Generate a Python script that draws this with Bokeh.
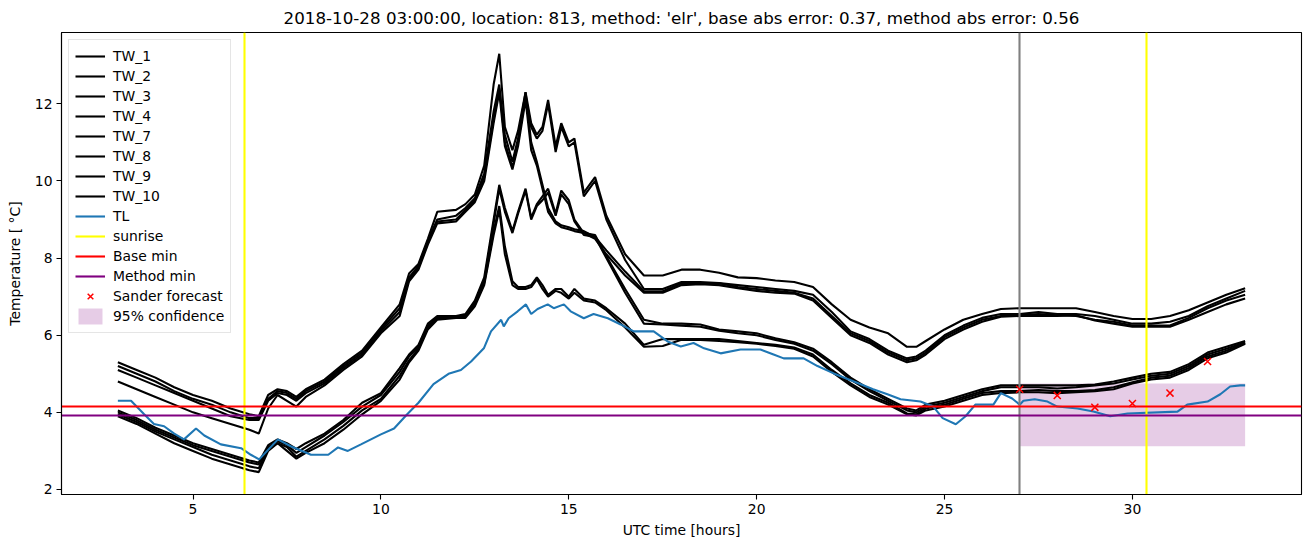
import math
from bokeh.plotting import figure
from bokeh.models import Range1d, Legend, LegendItem, FixedTicker
from bokeh.embed import file_html
from bokeh.resources import INLINE

# ---------------- data ----------------
T = [3, 3.5, 4, 4.5, 5, 5.5, 6, 6.5,
     6.75, 7, 7.25, 7.5, 7.75, 8,
     8.5, 9, 9.5, 10, 10.5, 10.75,
     11, 11.25, 11.5, 12, 12.25, 12.5, 12.75,
     13, 13.15, 13.3, 13.5, 13.65, 13.85,
     14, 14.15, 14.3, 14.45, 14.65, 14.8,
     15, 15.15, 15.4, 15.7, 16, 16.5,
     17, 17.5, 18, 18.5, 19, 19.5,
     20, 20.5, 21, 21.5, 22, 22.5,
     23, 23.5, 24, 24.25, 24.5, 25,
     25.5, 26, 26.5, 27, 27.5, 28,
     28.5, 29, 29.5, 30, 30.5, 31,
     31.5, 32, 32.5, 33]

TW_1 = [5.3, 5.1, 4.9, 4.65, 4.45, 4.3, 4.1, 3.95,
        3.9, 4.45, 4.6, 4.55, 4.4, 4.6,
        4.85, 5.25, 5.6, 6.2, 6.8, 7.6,
        7.85, 8.5, 9.2, 9.25, 9.4, 9.65, 10.4,
        12.5, 13.3, 11.4, 10.8, 11.3, 12.3,
        11.5, 11.2, 11.4, 12.1, 10.9, 11.5,
        11.0, 11.1, 9.7, 10.1, 9.1, 8.1,
        7.55, 7.55, 7.7, 7.7, 7.62, 7.5,
        7.48, 7.42, 7.38, 7.25, 6.8, 6.4,
        6.2, 6.05, 5.7, 5.7, 5.85, 6.15,
        6.4, 6.55, 6.68, 6.7, 6.7, 6.7,
        6.7, 6.6, 6.5, 6.42, 6.42, 6.5,
        6.65, 6.85, 7.05, 7.22]
TW_2 = [5.2, 5.0, 4.8, 4.55, 4.35, 4.2, 4.0, 3.85,
        3.85, 4.35, 4.55, 4.5, 4.35, 4.55,
        4.8, 5.2, 5.55, 6.15, 6.7, 7.5,
        7.8, 8.45, 9.0, 9.1, 9.3, 9.55, 10.2,
        11.8, 12.5, 11.0, 10.35, 11.0, 12.2,
        11.4, 11.1, 11.3, 12.0, 10.75, 11.4,
        10.9, 11.0, 9.6, 10.0, 9.0, 7.95,
        7.2, 7.2, 7.38, 7.38, 7.35, 7.3,
        7.25, 7.2, 7.15, 7.05, 6.6, 6.1,
        5.9, 5.6, 5.4, 5.45, 5.6, 6.0,
        6.25, 6.45, 6.55, 6.55, 6.6, 6.55,
        6.55, 6.5, 6.4, 6.3, 6.3, 6.35,
        6.5, 6.75, 6.95, 7.15]
TW_3 = [5.1, 4.9, 4.7, 4.5, 4.3, 4.1, 3.9, 3.8,
        3.8, 4.3, 4.5, 4.45, 4.3, 4.5,
        4.75, 5.15, 5.5, 6.1, 6.6, 7.45,
        7.75, 8.4, 8.95, 9.0, 9.25, 9.5, 10.1,
        11.6, 12.4, 11.2, 10.5, 11.1, 12.3,
        11.0, 10.5, 9.9, 9.3, 8.95, 8.85,
        8.8, 8.75, 8.7, 8.55, 8.2, 7.65,
        7.14, 7.14, 7.35, 7.35, 7.35, 7.25,
        7.2, 7.15, 7.1, 6.95, 6.5, 6.05,
        5.85, 5.55, 5.35, 5.4, 5.55, 5.95,
        6.2, 6.4, 6.5, 6.52, 6.55, 6.52,
        6.5, 6.4, 6.35, 6.25, 6.25, 6.25,
        6.45, 6.7, 6.9, 7.05]
TW_4 = [4.8, 4.6, 4.4, 4.2, 4.0, 3.85, 3.7, 3.55,
        3.45, 4.1, 4.45, 4.3, 4.15, 4.4,
        4.7, 5.1, 5.45, 6.05, 6.5, 7.4,
        7.7, 8.35, 8.9, 8.95, 9.2, 9.45, 10.0,
        11.5, 12.3, 10.9, 10.3, 10.9, 12.1,
        10.8, 10.4, 9.8, 9.2, 8.9, 8.8,
        8.75, 8.7, 8.65, 8.5, 8.1, 7.55,
        7.1, 7.1, 7.3, 7.32, 7.3, 7.22,
        7.15, 7.1, 7.08, 6.9, 6.45, 6.0,
        5.8, 5.5, 5.3, 5.35, 5.5, 5.9,
        6.15, 6.35, 6.48, 6.5, 6.5, 6.5,
        6.52, 6.38, 6.3, 6.22, 6.22, 6.22,
        6.4, 6.6, 6.8, 6.95]
TW_7 = [4.05, 3.85, 3.6, 3.4, 3.2, 3.05, 2.9, 2.75,
        2.7, 3.15, 3.3, 3.2, 3.05, 3.2,
        3.45, 3.8, 4.25, 4.5, 5.15, 5.5,
        5.75, 6.3, 6.5, 6.5, 6.55, 6.9, 7.5,
        9.0, 9.9, 9.3, 8.7, 9.2, 9.8,
        9.05, 9.4, 9.6, 9.8, 9.15, 9.75,
        9.5, 9.0, 8.65, 8.6, 8.05, 7.2,
        6.4, 6.3, 6.3, 6.28, 6.15, 6.1,
        6.05, 5.92, 5.82, 5.65, 5.3, 4.9,
        4.6, 4.35, 4.1, 4.05, 4.2, 4.3,
        4.45, 4.6, 4.7, 4.7, 4.7, 4.7,
        4.7, 4.72, 4.8, 4.9, 5.0, 5.05,
        5.25, 5.55, 5.7, 5.85]
TW_8 = [4.0, 3.8, 3.55, 3.35, 3.15, 3.0, 2.85, 2.7,
        2.65, 3.1, 3.25, 3.15, 2.95, 3.1,
        3.4, 3.75, 4.15, 4.45, 5.05, 5.45,
        5.7, 6.25, 6.45, 6.5, 6.5, 6.85, 7.4,
        8.9, 9.8, 9.2, 8.65, 9.15, 9.75,
        9.0, 9.35, 9.5, 9.7, 9.1, 9.65,
        9.4, 8.95, 8.6, 8.55, 8.0, 7.1,
        6.3, 6.28, 6.25, 6.22, 6.12, 6.05,
        6.0, 5.88, 5.78, 5.6, 5.25, 4.85,
        4.55, 4.3, 4.05, 4.0, 4.15, 4.25,
        4.4, 4.55, 4.65, 4.65, 4.65, 4.62,
        4.65, 4.7, 4.75, 4.85, 4.95, 5.0,
        5.2, 5.5, 5.65, 5.82]
TW_9 = [3.95, 3.75, 3.5, 3.3, 3.1, 2.9, 2.75, 2.6,
        2.55, 3.05, 3.2, 3.1, 2.85, 3.0,
        3.3, 3.65, 4.05, 4.35, 4.95, 5.35,
        5.65, 6.2, 6.45, 6.45, 6.5, 6.8, 7.35,
        8.7, 9.35, 8.3, 7.4, 7.25, 7.25,
        7.3, 7.5, 7.3, 7.05, 7.2, 7.2,
        7.0, 7.2, 6.95, 6.9, 6.7, 6.3,
        5.75, 5.9, 5.9, 5.9, 5.9, 5.85,
        5.8, 5.75, 5.68, 5.5, 5.1, 4.75,
        4.45, 4.25, 3.97, 3.95, 4.1, 4.2,
        4.35, 4.5, 4.55, 4.55, 4.58, 4.55,
        4.55, 4.58, 4.65, 4.78, 4.9, 4.95,
        5.15, 5.45, 5.6, 5.8]
TW_10 = [3.9, 3.7, 3.45, 3.2, 3.0, 2.8, 2.65, 2.5,
         2.45, 3.0, 3.2, 3.0, 2.8, 2.95,
         3.2, 3.55, 3.95, 4.3, 4.85, 5.3,
         5.6, 6.15, 6.4, 6.45, 6.45, 6.75, 7.3,
         8.6, 9.25, 8.1, 7.3, 7.2, 7.2,
         7.25, 7.45, 7.2, 7.0, 7.15, 7.1,
         6.95, 7.1, 6.9, 6.85, 6.65, 6.2,
         5.7, 5.72, 5.88, 5.88, 5.85, 5.82,
         5.78, 5.72, 5.65, 5.45, 5.05, 4.7,
         4.4, 4.2, 3.95, 3.92, 4.05, 4.15,
         4.3, 4.45, 4.5, 4.52, 4.52, 4.5,
         4.52, 4.55, 4.6, 4.75, 4.85, 4.9,
         5.1, 5.4, 5.55, 5.78]

TL_T = [3.0, 3.35, 3.7, 3.96, 4.23, 4.5, 4.76, 5.08, 5.3, 5.74, 6.28, 6.54, 6.76,
        7.26, 7.6, 8.14, 8.6, 8.86, 9.12, 9.47, 10.0, 10.35, 10.7, 11.0, 11.4,
        11.8, 12.13, 12.4, 12.74, 12.93, 13.2, 13.27, 13.4, 13.64, 13.86, 14.0,
        14.17, 14.44, 14.6, 14.87, 15.05, 15.4, 15.66, 16.04, 16.38, 16.73, 17.26,
        17.63, 17.98, 18.32, 18.6, 19.04, 19.57, 20.1, 20.45, 20.72, 21.25, 21.62,
        22.05, 22.77, 23.1, 23.48, 23.83, 24.36, 24.7, 24.95, 25.3, 25.56, 25.82,
        26.3, 26.5, 26.8, 27.0, 27.1, 27.4, 27.74, 28.0, 28.54, 28.96, 29.41,
        29.87, 31.2, 31.46, 32.0, 32.34, 32.6, 32.87, 33.0]
TL_V = [4.3, 4.3, 3.95, 3.7, 3.64, 3.45, 3.3, 3.58, 3.4, 3.17, 3.07, 2.9, 2.78,
        3.3, 3.12, 2.9, 2.9, 3.09, 3.0, 3.17, 3.43, 3.58, 3.95, 4.25, 4.73,
        5.0, 5.1, 5.32, 5.66, 6.1, 6.4, 6.23, 6.44, 6.62, 6.8, 6.55,
        6.68, 6.8, 6.7, 6.8, 6.62, 6.44, 6.55, 6.44, 6.28, 6.1, 6.1,
        5.84, 5.71, 5.8, 5.66, 5.53, 5.63, 5.63, 5.5, 5.4, 5.4, 5.2,
        5.01, 4.73, 4.6, 4.47, 4.34, 4.28, 4.15, 3.85, 3.69, 3.9, 4.2,
        4.2, 4.5, 4.36, 4.2, 4.3, 4.34, 4.28, 4.15, 4.1, 4.02, 3.9,
        3.97, 4.02, 4.2, 4.28, 4.47, 4.67, 4.7, 4.7]

SUNRISE = [6.38, 30.37]
FORECAST_START = [27.0]
BASE_MIN = [4.14]
METHOD_MIN = [3.93]
SANDER_T = [27, 28, 29, 30, 31, 32]
SANDER_V = [4.6, 4.44, 4.13, 4.23, 4.5, 5.32]
CONF_T = [27, 33]
CONF_LO = [3.12, 3.12]
CONF_HI = [4.75, 4.75]

TW_NAMES = ["TW_1", "TW_2", "TW_3", "TW_4", "TW_7", "TW_8", "TW_9", "TW_10"]
TW_DATA = [TW_1, TW_2, TW_3, TW_4, TW_7, TW_8, TW_9, TW_10]

TITLE = "2018-10-28 03:00:00, location: 813, method: 'elr', base abs error: 0.37, method abs error: 0.56"

# ---------------- figure ----------------
FONT = "DejaVu Sans"
LW = 2.1
p = figure(width=1310, height=547, x_range=Range1d(1.5, 34.5), y_range=Range1d(1.87, 13.85),
           output_backend="svg", toolbar_location=None, title=TITLE,
           min_border_left=61, min_border_right=9, min_border_top=32, min_border_bottom=53)

p.title.align = "center"
p.title.text_font = FONT
p.title.text_font_size = "16.7px"
p.title.text_font_style = "normal"
p.title.text_color = "black"

p.xgrid.visible = False
p.ygrid.visible = False
p.outline_line_color = "black"
p.outline_line_alpha = 1.0
p.outline_line_width = 1.1

p.xaxis.ticker = FixedTicker(ticks=[5, 10, 15, 20, 25, 30])
p.yaxis.ticker = FixedTicker(ticks=[2, 4, 6, 8, 10, 12])
p.xaxis.axis_label = "UTC time [hours]"
p.yaxis.axis_label = "Temperature [ °C]"
for ax in (p.xaxis, p.yaxis):
    ax.axis_line_color = "black"
    ax.axis_line_width = 1.1
    ax.major_tick_line_color = "black"
    ax.major_tick_line_width = 1.1
    ax.minor_tick_line_color = None
    ax.major_tick_in = 0
    ax.major_tick_out = 5
    ax.major_label_text_font = FONT
    ax.major_label_text_font_size = "13.9px"
    ax.major_label_text_color = "black"
    ax.axis_label_text_font = FONT
    ax.axis_label_text_font_size = "13.9px"
    ax.axis_label_text_font_style = "normal"
    ax.axis_label_text_color = "black"
    ax.major_label_standoff = 4
p.xaxis.axis_label_standoff = 5
p.yaxis.axis_label_standoff = 9

items = []
band = p.varea(x=CONF_T, y1=CONF_LO, y2=CONF_HI, fill_color="purple", fill_alpha=0.2)

for name, vals in zip(TW_NAMES, TW_DATA):
    r = p.line(T, vals, line_color="black", line_width=LW)
    items.append(LegendItem(label=name, renderers=[r]))

r_tl = p.line(TL_T, TL_V, line_color="#1f77b4", line_width=LW)
items.append(LegendItem(label="TL", renderers=[r_tl]))

r_sun = p.vspan(x=SUNRISE, line_color="yellow", line_width=LW)
p.vspan(x=FORECAST_START, line_color="gray", line_width=LW)
r_base = p.hspan(y=BASE_MIN, line_color="red", line_width=LW)
r_meth = p.hspan(y=METHOD_MIN, line_color="purple", line_width=LW)
items.append(LegendItem(label="sunrise", renderers=[r_sun]))
items.append(LegendItem(label="Base min", renderers=[r_base]))
items.append(LegendItem(label="Method min", renderers=[r_meth]))

r_sander = p.scatter(SANDER_T, SANDER_V, marker="x", size=10, line_color="red", line_width=1.5)
items.append(LegendItem(label="Sander forecast", renderers=[r_sander]))
items.append(LegendItem(label="95% confidence", renderers=[band]))

legend = Legend(items=items, location="top_left")
legend.margin = 7
legend.padding = 6
legend.spacing = 0
legend.glyph_width = 30
legend.glyph_height = 20
legend.label_height = 20
legend.label_standoff = 8
legend.label_text_font = FONT
legend.label_text_font_size = "13.9px"
legend.label_text_color = "black"
legend.border_line_color = "#cccccc"
legend.border_line_width = 1
legend.background_fill_alpha = 0.8
p.add_layout(legend)

open("out.html", "w").write(file_html(p, INLINE))
